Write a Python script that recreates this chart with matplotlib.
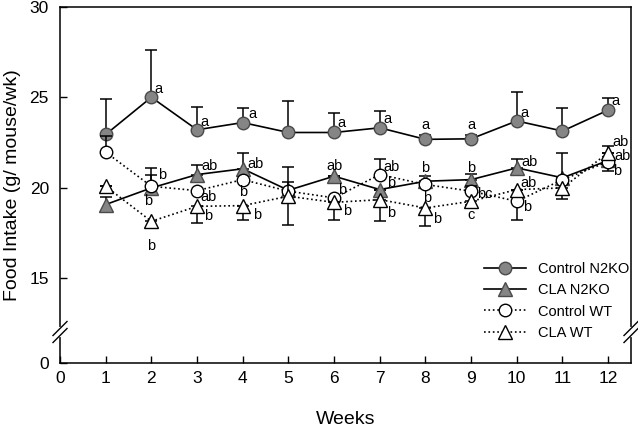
import numpy as np
import matplotlib
matplotlib.use("Agg")
import matplotlib.pyplot as plt

plt.rcParams['font.family'] = ['Liberation Sans', 'DejaVu Sans']

weeks = np.arange(1, 13)

# group means (g/mouse/wk)
ctrl_n2ko = [22.94, 25.0, 23.2, 23.6, 23.05, 23.05, 23.31, 22.67, 22.7, 23.69, 23.13, 24.29]
cla_n2ko = [19.06, 19.98, 20.72, 21.04, 19.85, 20.63, 19.89, 20.35, 20.44, 21.09, 20.54, 21.5]
ctrl_wt = [21.96, 20.07, 19.83, 20.44, 19.8, 19.43, 20.72, 20.17, 19.8, 19.24, 20.44, 21.43]
cla_wt = [20.07, 18.13, 18.96, 19.0, 19.52, 19.18, 19.33, 18.87, 19.24, 19.89, 19.98, 21.93]

# visible error bars (lower, upper)
ctrl_n2ko_err = ([0] * 12,
                 [1.95, 2.6, 1.25, 0.8, 1.75, 1.1, 0.95, 0.25, 0.2, 1.6, 1.25, 0.65])
cla_n2ko_err = ([0.4, 0, 0, 0, 0, 0, 0, 0, 0, 0, 0, 0],
                [0.4, 0.7, 0.55, 0.85, 0.45, 0, 0, 0.3, 0.3, 0.5, 0, 0.8])
ctrl_wt_err = ([0, 0, 0, 0, 0, 0, 0, 0, 0, 1.06, 0, 0.5],
               [0.9, 1.0, 0, 0, 0, 0, 0.87, 0, 0.27, 0, 1.5, 0])
cla_wt_err = ([0, 0.3, 0.92, 0.82, 1.6, 0.96, 1.2, 1.02, 0.2, 0, 0.6, 0],
              [0, 0, 0, 0, 1.6, 0, 0, 0, 0, 0, 0, 0])

# significance letters: (week, y, text, ha)
letters = [
    (2.06, 25.48, 'a', 'left'), (3.07, 23.63, 'a', 'left'), (4.12, 24.06, 'a', 'left'),
    (6.08, 23.56, 'a', 'left'), (7.07, 23.78, 'a', 'left'), (8.0, 23.44, 'a', 'center'),
    (9.0, 23.44, 'a', 'center'), (10.07, 24.15, 'a', 'left'), (12.08, 24.8, 'a', 'left'),
    (2.15, 20.72, 'b', 'left'), (1.93, 19.28, 'b', 'center'), (1.99, 16.78, 'b', 'center'),
    (3.1, 21.18, 'ab', 'left'), (3.07, 19.46, 'ab', 'left'), (3.15, 18.44, 'b', 'left'),
    (4.1, 21.31, 'ab', 'left'), (4.0, 19.74, 'b', 'center'), (4.22, 18.5, 'b', 'left'),
    (6.0, 21.22, 'ab', 'center'), (6.09, 19.85, 'b', 'left'), (6.2, 18.68, 'b', 'left'),
    (7.07, 21.15, 'ab', 'left'), (7.16, 20.26, 'b', 'left'), (7.15, 18.59, 'b', 'left'),
    (8.0, 21.09, 'b', 'center'), (8.03, 19.43, 'b', 'center'), (8.17, 18.26, 'b', 'left'),
    (9.01, 21.09, 'b', 'center'), (9.12, 19.67, 'bc', 'left'), (8.99, 18.46, 'c', 'center'),
    (10.11, 21.41, 'ab', 'left'), (10.07, 20.26, 'ab', 'left'), (10.13, 18.93, 'b', 'left'),
    (12.1, 22.55, 'ab', 'left'), (12.13, 21.75, 'ab', 'left'), (12.1, 20.9, 'b', 'left'),
]

# broken y axis: 0..12 squeezed
BRK, SQ = 12.0, 0.143


def fwd(v):
    v = np.asarray(v, dtype=float)
    return np.where(v >= BRK, v, BRK - (BRK - v) * SQ)


def inv(t):
    t = np.asarray(t, dtype=float)
    return np.where(t >= BRK, t, BRK - (BRK - t) / SQ)


fig = plt.figure(figsize=(6.38, 4.28), dpi=100)
ax = fig.add_axes([60 / 638, 65 / 428, 571 / 638, 356 / 428])
ax.set_yscale('function', functions=(fwd, inv))

gray = '#858585'
edge = '#4a4a4a'
series = [
    (ctrl_n2ko, ctrl_n2ko_err, 'o', gray, '-', 'Control N2KO'),
    (cla_n2ko, cla_n2ko_err, '^', gray, '-', 'CLA N2KO'),
    (ctrl_wt, ctrl_wt_err, 'o', 'white', ':', 'Control WT'),
    (cla_wt, cla_wt_err, '^', 'white', ':', 'CLA WT'),
]
handles = []
for i, (vals, err, mk, fc, ls, name) in enumerate(series):
    ax.errorbar(weeks, vals, yerr=err, fmt='none', ecolor='black', elinewidth=1.1,
                capsize=4, capthick=1.1, zorder=2 + i)
    ms = 9 if mk == 'o' else 10
    h, = ax.plot(weeks, vals, ls=ls, color='black', lw=1.2, marker=mk, ms=ms,
                 mfc=fc, mec=edge if fc == gray else 'black', mew=1, label=name,
                 zorder=2.5 + i)
    handles.append(h)

for x, y, t, ha in letters:
    ax.text(x, y, t, ha=ha, va='center', fontsize=10.5, zorder=10)

ax.set_xlim(0, 12.5)
ax.set_ylim(0, 30)
ax.set_xticks(range(0, 13))
ax.set_yticks([0, 15, 20, 25, 30])
ax.tick_params(direction='in', length=5, width=1, labelsize=12.5, pad=6)
ax.tick_params(axis='y', pad=8)
for s in ax.spines.values():
    s.set_linewidth(1.1)

ax.set_xlabel('Weeks', fontsize=14, labelpad=18)
ax.set_ylabel('Food Intake (g/ mouse/wk)', fontsize=14, labelpad=6)

# axis-break marks on both side spines
yb = (fwd(BRK) - fwd(0)) / (30 - fwd(0))
aw, ah = 571.0, 356.0
for xs in (0.0, 1.0):
    ax.plot([xs, xs], [yb - 3 / ah, yb + 3 / ah], transform=ax.transAxes,
            color='white', lw=3, clip_on=False, zorder=20)
    for d in (-3.5, 3.5):
        ax.plot([xs - 7 / aw, xs + 7 / aw], [yb + (d - 7) / ah, yb + (d + 7) / ah],
                transform=ax.transAxes, color='black', lw=1, clip_on=False, zorder=21)

fig.legend(handles=handles, loc='upper left', bbox_to_anchor=(484 / 638, 1 - 262 / 428),
           frameon=False, fontsize=10.5, handlelength=2.9, handletextpad=0.8,
           labelspacing=0.5, borderpad=0, borderaxespad=0, numpoints=1)

fig.savefig('out.png', dpi=100)
plt.close(fig)
